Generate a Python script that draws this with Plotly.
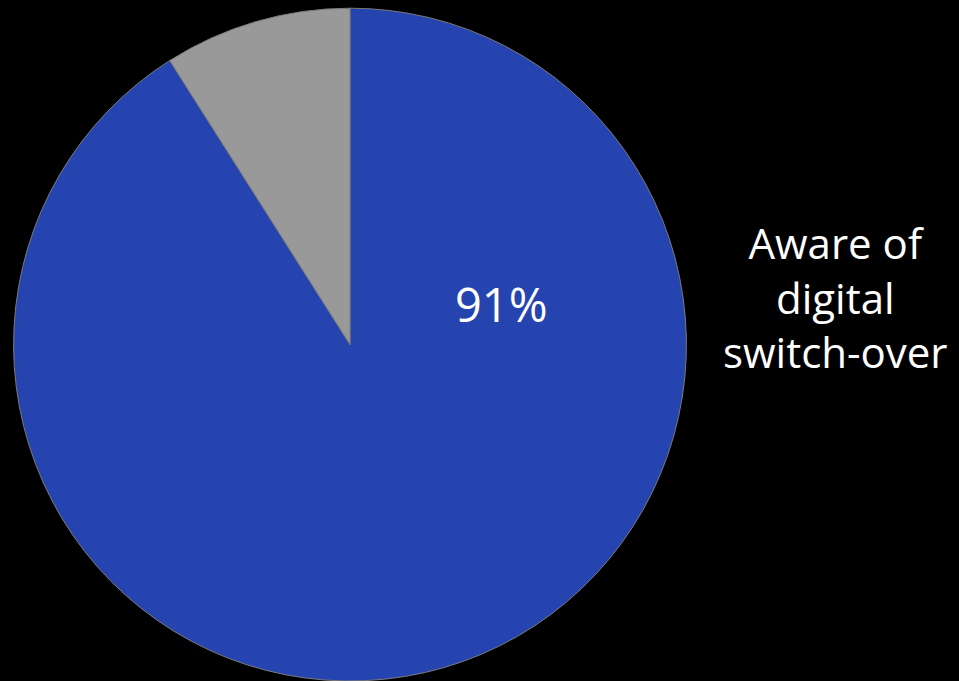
import plotly.graph_objects as go

categories = ["Aware of digital switch-over", "Not aware"]
values = [91, 9]
colors = ["#2644b0", "#999999"]
value_label = "91%"
series_label = "Aware of<br>digital<br>switch-over"

fig = go.Figure()
fig.add_trace(go.Pie(
    labels=categories,
    values=values,
    sort=False,
    direction="clockwise",
    rotation=0,
    marker=dict(colors=colors, line=dict(color="#7a7a7a", width=1)),
    textinfo="none",
    hoverinfo="label+percent",
    showlegend=False,
    domain=dict(x=[13/959, 687/959], y=[0, 0.988]),
))

fig.add_annotation(
    x=501/959, y=1 - 304/681, xref="paper", yref="paper",
    text=value_label, showarrow=False,
    font=dict(family="Open Sans, Noto Sans, sans-serif", size=47, color="white"),
    xanchor="center", yanchor="middle",
)
fig.add_annotation(
    x=835/959, y=1 - 297/681, xref="paper", yref="paper",
    text=series_label, showarrow=False, align="center",
    font=dict(family="Open Sans, Noto Sans, sans-serif", size=42, color="white"),
    xanchor="center", yanchor="middle",
)

fig.update_layout(
    width=959, height=681,
    margin=dict(l=0, r=0, t=0, b=0),
    paper_bgcolor="black",
    plot_bgcolor="black",
)

fig.write_html("out.html")
